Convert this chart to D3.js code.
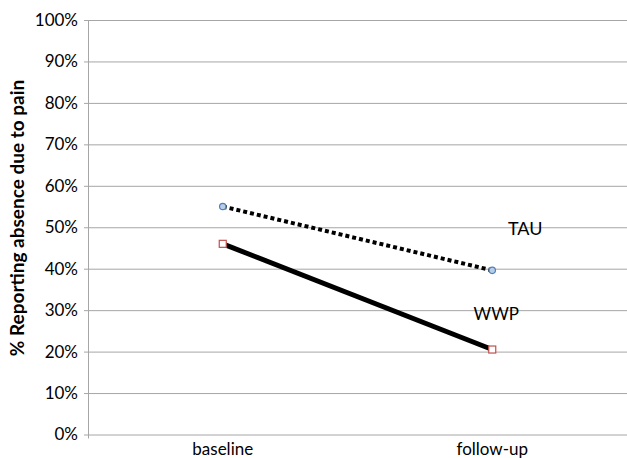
<!DOCTYPE html>
<html>
<head>
<meta charset="utf-8">
<script src="https://cdn.jsdelivr.net/npm/d3@7"></script>
<style>
  body { margin: 0; background: #fff; }
  text { font-family: Lato, "Open Sans", sans-serif; }
</style>
</head>
<body>
<div id="chart"></div>
<script>
// chart data
let categories = ["baseline", "follow-up"];
let tauValues = [55, 39.6];
let wwpValues = [46, 20.5];
let yTicks = [0, 10, 20, 30, 40, 50, 60, 70, 80, 90, 100];

let width = 627, height = 458;
let margin = {top: 20, right: 0, bottom: 23.5, left: 88};
let innerW = width - margin.left - margin.right;
let innerH = height - margin.top - margin.bottom;

let svg = d3.select("#chart").append("svg")
    .attr("width", width)
    .attr("height", height);

let g = svg.append("g")
    .attr("transform", "translate(" + margin.left + "," + margin.top + ")");

// scales
let x = d3.scalePoint()
    .domain(categories)
    .range([0, innerW])
    .padding(0.5);

let y = d3.scaleLinear()
    .domain([0, 100])
    .range([innerH, 0]);

// gridlines
g.selectAll(".grid")
    .data(yTicks)
    .enter().append("line")
    .attr("x1", -4)
    .attr("x2", innerW)
    .attr("y1", d => y(d) + 0.5)
    .attr("y2", d => y(d) + 0.5)
    .attr("stroke", "#a6a6a6")
    .attr("stroke-width", 1);

// y axis line
g.append("line")
    .attr("x1", 0.5).attr("x2", 0.5)
    .attr("y1", 0).attr("y2", innerH + 4)
    .attr("stroke", "#a6a6a6");

// y tick labels
g.selectAll(".ylab")
    .data(yTicks)
    .enter().append("text")
    .attr("x", -10)
    .attr("y", d => y(d))
    .attr("dy", "0.35em")
    .attr("text-anchor", "end")
    .attr("font-size", 17)
    .attr("fill", "#000")
    .text(d => d + "%");

// x labels
g.selectAll(".xlab")
    .data(categories)
    .enter().append("text")
    .attr("x", d => x(d))
    .attr("y", innerH + 20)
    .attr("text-anchor", "middle")
    .attr("font-size", 17)
    .text(d => d);

// y axis title
svg.append("text")
    .attr("transform", "translate(24," + 218 + ") rotate(-90)")
    .attr("text-anchor", "middle")
    .attr("font-size", 19)
    .attr("font-weight", "bold")
    .text("% Reporting absence due to pain");

let line = d3.line()
    .x((d, i) => x(categories[i]))
    .y(d => y(d));

// TAU dashed line
g.append("path")
    .datum(tauValues)
    .attr("fill", "none")
    .attr("stroke", "#000")
    .attr("stroke-width", 4)
    .attr("stroke-dasharray", "4,3")
    .attr("d", line);

// WWP solid line
g.append("path")
    .datum(wwpValues)
    .attr("fill", "none")
    .attr("stroke", "#000")
    .attr("stroke-width", 5)
    .attr("d", line);

// markers
g.selectAll(".tau")
    .data(tauValues)
    .enter().append("circle")
    .attr("cx", (d, i) => x(categories[i]))
    .attr("cy", d => y(d))
    .attr("r", 3.2)
    .attr("fill", "#b9cde5")
    .attr("stroke", "#4f81bd")
    .attr("stroke-width", 1.2);

g.selectAll(".wwp")
    .data(wwpValues)
    .enter().append("rect")
    .attr("x", (d, i) => x(categories[i]) - 3.5)
    .attr("y", d => y(d) - 3.5)
    .attr("width", 7)
    .attr("height", 7)
    .attr("fill", "#fff")
    .attr("stroke", "#c0504d")
    .attr("stroke-width", 1.2);

// series labels
g.append("text")
    .attr("x", x("follow-up") + 33)
    .attr("y", y(49.6))
    .attr("dy", "0.35em")
    .attr("text-anchor", "middle")
    .attr("font-size", 18)
    .text("TAU");

g.append("text")
    .attr("x", x("follow-up") + 4)
    .attr("y", y(29))
    .attr("dy", "0.35em")
    .attr("text-anchor", "middle")
    .attr("font-size", 17)
    .text("WWP");
</script>
</body>
</html>
